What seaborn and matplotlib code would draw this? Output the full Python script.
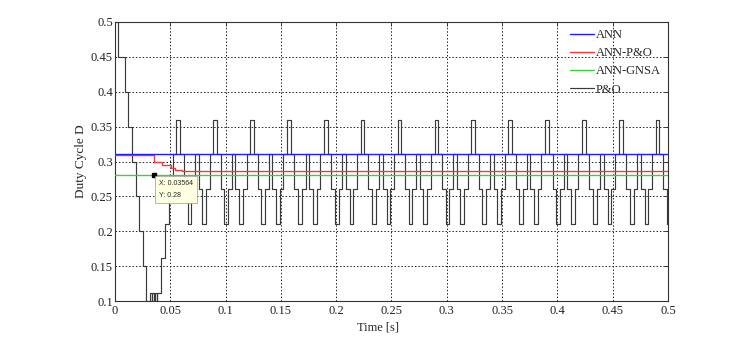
import matplotlib
matplotlib.use("Agg")
import matplotlib.pyplot as plt
import numpy as np
import pandas as pd
import seaborn as sns

# ANN and ANN-GNSA hold a fixed duty cycle, ANN-P&O settles in a few steps
ann_t = [0.0, 0.5]
ann_d = [0.311, 0.311]
gnsa_t = [0.0, 0.5]
gnsa_d = [0.28, 0.28]
annpo_t = [0.0, 0.0356, 0.0425, 0.0505, 0.054, 0.0603, 0.5]
annpo_d = [0.309, 0.299, 0.295, 0.291, 0.288, 0.286, 0.286]

# P&O start-up transient (switching instants)
po_head_t = [0.0, 0.0027, 0.0088, 0.0122, 0.0156, 0.0188, 0.0219, 0.0249, 0.0283,
             0.0313, 0.0332, 0.0335, 0.0356, 0.0359, 0.0377, 0.0380,
             0.0418, 0.0452, 0.0487, 0.0521]
po_head_d = [0.5, 0.45, 0.4, 0.35, 0.3, 0.25, 0.2, 0.15, 0.1,
             0.111, 0.1, 0.111, 0.1, 0.111, 0.1, 0.111,
             0.161, 0.211, 0.261, 0.311]

# P&O steady-state oscillation, one level per sample period
po_start = 0.0556
po_dt = 1 / 300
po_body_d = [
    0.36, 0.311, 0.261, 0.211, 0.261, 0.311, 0.261, 0.211, 0.261, 0.311,
    0.36, 0.311, 0.261, 0.211, 0.261, 0.311, 0.261, 0.211, 0.261, 0.311,
    0.36, 0.311, 0.261, 0.211, 0.261, 0.311, 0.261, 0.211, 0.261, 0.311,
    0.36, 0.311, 0.261, 0.211, 0.261, 0.311, 0.261, 0.211, 0.261, 0.311,
    0.36, 0.311, 0.261, 0.211, 0.261, 0.311, 0.261, 0.211, 0.261, 0.311,
    0.36, 0.311, 0.261, 0.211, 0.261, 0.311, 0.261, 0.211, 0.261, 0.311,
    0.36, 0.311, 0.261, 0.211, 0.261, 0.311, 0.261, 0.211, 0.261, 0.311,
    0.36, 0.311, 0.261, 0.211, 0.261, 0.311, 0.261, 0.211, 0.261, 0.311,
    0.36, 0.311, 0.261, 0.211, 0.261, 0.311, 0.261, 0.211, 0.261, 0.311,
    0.36, 0.311, 0.261, 0.211, 0.261, 0.311, 0.261, 0.211, 0.261, 0.311,
    0.36, 0.311, 0.261, 0.211, 0.261, 0.311, 0.261, 0.211, 0.261, 0.311,
    0.36, 0.311, 0.261, 0.211, 0.261, 0.311, 0.261, 0.211, 0.261, 0.311,
    0.36, 0.311, 0.261, 0.211, 0.261, 0.311, 0.261, 0.211, 0.261, 0.311,
    0.36, 0.311, 0.261, 0.211,
]

# data tip
tip_x = [0.03564]
tip_y = [0.28]

x_ticks = [0, 0.05, 0.1, 0.15, 0.2, 0.25, 0.3, 0.35, 0.4, 0.45, 0.5]
y_ticks = [0.1, 0.15, 0.2, 0.25, 0.3, 0.35, 0.4, 0.45, 0.5]

sns.set_style("white")
plt.rcParams["font.family"] = ["Liberation Serif", "DejaVu Serif"]

# build full P&O series
body_t = po_start + po_dt * np.arange(len(po_body_d))
po = pd.DataFrame({
    "t": np.concatenate([po_head_t, body_t, [0.5]]),
    "d": np.concatenate([po_head_d, po_body_d, [po_body_d[-1]]]),
})
po = po[po.t <= 0.5]

fig = plt.figure(figsize=(7.38, 3.48), dpi=100)
ax = fig.add_axes([0.1558, 0.135, 0.7493, 0.8018])

step = dict(drawstyle="steps-post", estimator=None, sort=False, ax=ax)
sns.lineplot(x=po.t, y=po.d, color="#3a3a3a", lw=0.85, zorder=2, **step)
sns.lineplot(x=annpo_t, y=annpo_d, color="#f03c3c", lw=1.0, zorder=3, **step)
sns.lineplot(x=gnsa_t, y=gnsa_d, color="#3ad23a", lw=1.0, zorder=3, **step)
sns.lineplot(x=ann_t, y=ann_d, color="#2020ff", lw=1.0, zorder=4, **step)

lines = ax.get_lines()
handles = [lines[3], lines[1], lines[2], lines[0]]
labels = ["ANN", "ANN-P&O", "ANN-GNSA", "P&O"]
ax.legend(handles, labels, loc="upper left", bbox_to_anchor=(0.823, 0.975),
          frameon=False, fontsize=9, handlelength=1.9, handletextpad=0.15,
          labelspacing=0.5, borderpad=0, borderaxespad=0)

# data tip marker and box
ax.plot(tip_x, tip_y, "s", color="k", ms=3.5, zorder=6)
ax.annotate(f"X: {tip_x[0]}\nY: {tip_y[0]:g}", xy=(tip_x[0], tip_y[0]),
            xytext=(3.5, -3.5), textcoords="offset points", ha="left", va="top",
            fontsize=5, family=["Liberation Sans"], linespacing=2.0,
            bbox=dict(boxstyle="square,pad=0.6", fc="#ffffe1", ec="#9a9a9a", lw=0.5),
            zorder=7)

ax.set_xlim(0, 0.5)
ax.set_ylim(0.1, 0.5)
ax.set_xticks(x_ticks, [f"{v:g}" for v in x_ticks])
ax.set_yticks(y_ticks, [f"{v:g}" for v in y_ticks])
ax.grid(True, linestyle=(0, (1.5, 2)), color="#222222", linewidth=0.7)
ax.tick_params(direction="in", length=3, width=0.6, top=True, right=True,
               labelsize=9, colors="#222222")
ax.tick_params(axis="x", pad=3)
ax.tick_params(axis="y", pad=1.5)
for s in ax.spines.values():
    s.set_visible(True)
    s.set_color("#333333")
    s.set_linewidth(0.8)

ax.set_xlabel("Time [s]", fontsize=9, labelpad=1)
ax.xaxis.set_label_coords(0.475, -0.072)
ax.set_ylabel("Duty Cycle D", fontsize=9.5, labelpad=3)

fig.savefig("out.png", dpi=100)
